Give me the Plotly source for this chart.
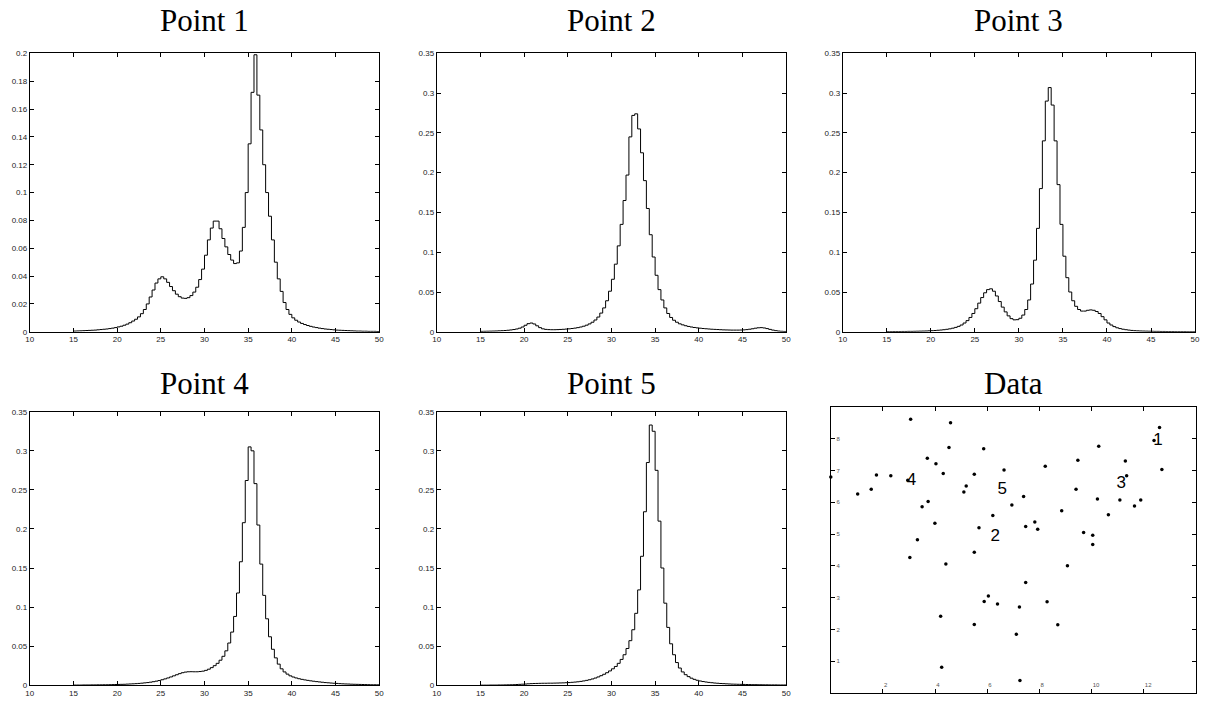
import plotly.graph_objects as go

W, H = 1208, 707

# ---------------- data ----------------
x_start = 15.0          # first bin left edge
bin_w = 1.0 / 3.0       # bin width of the stair plots
x_end = 50.0

dens1 = [0.0005, 0.0006, 0.0007, 0.0008, 0.0009, 0.0010, 0.0011, 0.0012, 0.0014, 0.0016,
         0.0018, 0.0020, 0.0023, 0.0026, 0.0030, 0.0035, 0.0040, 0.0047, 0.0055, 0.0065,
         0.0077, 0.0090, 0.0107, 0.0130, 0.0160, 0.0200, 0.0250, 0.0300, 0.0350, 0.0380,
         0.0395, 0.0380, 0.0355, 0.0325, 0.0295, 0.0270, 0.0252, 0.0242, 0.0240, 0.0245,
         0.0260, 0.0285, 0.0320, 0.0375, 0.0450, 0.0550, 0.0660, 0.0745, 0.0795, 0.0795,
         0.0740, 0.0670, 0.0610, 0.0555, 0.0515, 0.0490, 0.0495, 0.0580, 0.0750, 0.1000,
         0.1350, 0.1720, 0.1990, 0.1700, 0.1450, 0.1200, 0.1000, 0.0830, 0.0660, 0.0500,
         0.0380, 0.0290, 0.0210, 0.0160, 0.0125, 0.0100, 0.0083, 0.0070, 0.0060, 0.0052,
         0.0045, 0.0039, 0.0034, 0.0030, 0.0026, 0.0023, 0.0020, 0.0018, 0.0016, 0.0014,
         0.0012, 0.0011, 0.0010, 0.0009, 0.0008, 0.0007, 0.0006, 0.0005, 0.0005, 0.0004,
         0.0004, 0.0003, 0.0003, 0.0003, 0.0002]

dens2 = [0.0005, 0.0006, 0.0007, 0.0008, 0.0009, 0.0010, 0.0012, 0.0014, 0.0016, 0.0019,
         0.0023, 0.0028, 0.0035, 0.0045, 0.0060, 0.0082, 0.0102, 0.0110, 0.0098, 0.0075,
         0.0052, 0.0037, 0.0030, 0.0027, 0.0026, 0.0026, 0.0027, 0.0029, 0.0031, 0.0034,
         0.0037, 0.0041, 0.0046, 0.0052, 0.0060, 0.0070, 0.0083, 0.0099, 0.0120, 0.0148,
         0.0185, 0.0235, 0.0300, 0.0390, 0.0510, 0.0660, 0.0850, 0.1080, 0.1350, 0.1650,
         0.1970, 0.2450, 0.2720, 0.2740, 0.2550, 0.2250, 0.1900, 0.1550, 0.1220, 0.0940,
         0.0710, 0.0530, 0.0400, 0.0300, 0.0230, 0.0180, 0.0145, 0.0120, 0.0100, 0.0087,
         0.0076, 0.0067, 0.0060, 0.0054, 0.0049, 0.0045, 0.0041, 0.0038, 0.0035, 0.0032,
         0.0030, 0.0028, 0.0026, 0.0024, 0.0023, 0.0022, 0.0021, 0.0021, 0.0021, 0.0022,
         0.0024, 0.0027, 0.0032, 0.0038, 0.0045, 0.0050, 0.0052, 0.0048, 0.0040, 0.0030,
         0.0021, 0.0014, 0.0009, 0.0006, 0.0004]

dens3 = [0.0002, 0.0002, 0.0003, 0.0003, 0.0003, 0.0004, 0.0004, 0.0005, 0.0005, 0.0006,
         0.0007, 0.0008, 0.0009, 0.0010, 0.0012, 0.0014, 0.0016, 0.0019, 0.0022, 0.0026,
         0.0031, 0.0037, 0.0045, 0.0055, 0.0068, 0.0085, 0.0110, 0.0140, 0.0180, 0.0230,
         0.0290, 0.0360, 0.0430, 0.0490, 0.0530, 0.0540, 0.0510, 0.0450, 0.0380, 0.0310,
         0.0250, 0.0200, 0.0165, 0.0150, 0.0152, 0.0170, 0.0210, 0.0280, 0.0400, 0.0600,
         0.0900, 0.1300, 0.1800, 0.2400, 0.2900, 0.3070, 0.2850, 0.2400, 0.1850, 0.1350,
         0.0950, 0.0680, 0.0500, 0.0390, 0.0320, 0.0280, 0.0260, 0.0260, 0.0270, 0.0275,
         0.0270, 0.0255, 0.0230, 0.0190, 0.0150, 0.0110, 0.0085, 0.0065, 0.0050, 0.0040,
         0.0032, 0.0026, 0.0021, 0.0017, 0.0014, 0.0012, 0.0010, 0.0009, 0.0008, 0.0007,
         0.0006, 0.0005, 0.0005, 0.0004, 0.0004, 0.0003, 0.0003, 0.0003, 0.0002, 0.0002,
         0.0002, 0.0002, 0.0001, 0.0001, 0.0001]

dens4 = [0.0002, 0.0002, 0.0002, 0.0003, 0.0003, 0.0003, 0.0004, 0.0004, 0.0005, 0.0005,
         0.0006, 0.0006, 0.0007, 0.0008, 0.0009, 0.0010, 0.0011, 0.0012, 0.0014, 0.0016,
         0.0018, 0.0020, 0.0023, 0.0026, 0.0030, 0.0034, 0.0039, 0.0045, 0.0052, 0.0060,
         0.0070, 0.0081, 0.0093, 0.0106, 0.0120, 0.0134, 0.0148, 0.0160, 0.0168, 0.0172,
         0.0173, 0.0172, 0.0172, 0.0175, 0.0180, 0.0190, 0.0205, 0.0225, 0.0250, 0.0280,
         0.0320, 0.0370, 0.0440, 0.0540, 0.0680, 0.0880, 0.1180, 0.1580, 0.2080, 0.2620,
         0.3050, 0.3000, 0.2580, 0.2050, 0.1550, 0.1150, 0.0850, 0.0620, 0.0460, 0.0350,
         0.0270, 0.0210, 0.0170, 0.0142, 0.0120, 0.0105, 0.0093, 0.0083, 0.0075, 0.0068,
         0.0062, 0.0056, 0.0051, 0.0046, 0.0042, 0.0038, 0.0034, 0.0031, 0.0028, 0.0025,
         0.0023, 0.0020, 0.0018, 0.0016, 0.0015, 0.0013, 0.0012, 0.0011, 0.0010, 0.0009,
         0.0008, 0.0007, 0.0006, 0.0006, 0.0005]

dens5 = [0.0001, 0.0001, 0.0001, 0.0002, 0.0002, 0.0002, 0.0003, 0.0003, 0.0004, 0.0005,
         0.0006, 0.0007, 0.0009, 0.0011, 0.0013, 0.0015, 0.0018, 0.0020, 0.0022, 0.0023,
         0.0024, 0.0025, 0.0025, 0.0026, 0.0026, 0.0027, 0.0028, 0.0029, 0.0030, 0.0032,
         0.0034, 0.0037, 0.0040, 0.0044, 0.0049, 0.0055, 0.0062, 0.0070, 0.0080, 0.0092,
         0.0106, 0.0122, 0.0140, 0.0160, 0.0183, 0.0210, 0.0240, 0.0280, 0.0330, 0.0390,
         0.0470, 0.0570, 0.0710, 0.0920, 0.1220, 0.1650, 0.2220, 0.2850, 0.3330, 0.3250,
         0.2750, 0.2100, 0.1500, 0.1050, 0.0740, 0.0530, 0.0390, 0.0290, 0.0220, 0.0170,
         0.0135, 0.0110, 0.0090, 0.0075, 0.0063, 0.0054, 0.0047, 0.0041, 0.0036, 0.0032,
         0.0028, 0.0025, 0.0022, 0.0020, 0.0018, 0.0016, 0.0014, 0.0013, 0.0012, 0.0011,
         0.0010, 0.0009, 0.0008, 0.0007, 0.0007, 0.0006, 0.0006, 0.0005, 0.0005, 0.0004,
         0.0004, 0.0004, 0.0003, 0.0003, 0.0003]

titles = ["Point 1", "Point 2", "Point 3", "Point 4", "Point 5", "Data"]

x_ticks = [10, 15, 20, 25, 30, 35, 40, 45, 50]
y_ticks_1 = [0, 0.02, 0.04, 0.06, 0.08, 0.1, 0.12, 0.14, 0.16, 0.18, 0.2]
y_ticks_2 = [0, 0.05, 0.1, 0.15, 0.2, 0.25, 0.3, 0.35]

# scattered data (Data panel)
pts_x = [3.06, 4.59, 12.60, 12.39, 10.27, 4.53, 5.86, 3.70, 9.47, 11.29,
         4.03, 8.22, 6.64, 12.69, 4.31, 5.50, 1.75, 2.30, 11.34, 0.00,
         2.95, 1.55, 5.19, 5.10, 1.03, 9.40, 7.39, 10.22, 11.08, 11.88,
         3.73, 3.50, 6.94, 11.64, 8.85, 6.21, 10.64, 7.82, 3.99, 7.47,
         5.68, 7.93, 9.69, 10.04, 3.32, 10.04, 5.50, 3.03, 4.41, 9.07,
         7.47, 6.04, 5.88, 6.39, 8.29, 7.23, 4.21, 5.50, 8.70, 7.11,
         4.25, 7.25]
pts_y = [8.61, 8.50, 8.35, 7.94, 7.76, 7.72, 7.68, 7.38, 7.32, 7.30,
         7.21, 7.13, 7.01, 7.03, 6.90, 6.88, 6.86, 6.83, 6.83, 6.79,
         6.69, 6.41, 6.51, 6.32, 6.26, 6.41, 6.18, 6.10, 6.07, 6.07,
         6.02, 5.86, 5.91, 5.88, 5.73, 5.58, 5.61, 5.38, 5.34, 5.24,
         5.20, 5.15, 5.05, 4.96, 4.82, 4.67, 4.43, 4.26, 4.06, 4.00,
         3.48, 3.05, 2.88, 2.80, 2.87, 2.71, 2.42, 2.16, 2.15, 1.85,
         0.81, 0.40]
lbl_text = ["1", "2", "3", "4", "5"]
lbl_x = [12.54, 6.30, 11.13, 3.09, 6.57]
lbl_y = [7.93, 4.91, 6.58, 6.69, 6.39]

data_x_ticks = [0, 2, 4, 6, 8, 10, 12, 14]
data_y_ticks = [0, 1, 2, 3, 4, 5, 6, 7, 8, 9]

# ---------------- layout (pixel boxes) ----------------
boxes = [  # (left, right, top, bottom) in px
    (26, 378, 50, 332),
    (436, 788, 50, 332),
    (845, 1200, 50, 332),
    (26, 378, 413, 690),
    (436, 788, 413, 690),
    (833, 1201, 408, 698),
]


def xdom(b):
    return [b[0] / W, b[1] / W]


def ydom(b):
    return [1 - b[3] / H, 1 - b[2] / H]


fig = go.Figure()

tick_font = dict(family="Liberation Sans, Arial, sans-serif", size=8, color="#222")
axis_common = dict(showline=True, linecolor="black", linewidth=1, mirror="ticks",
                   ticks="inside", ticklen=4, tickcolor="black", tickwidth=1,
                   showgrid=False, zeroline=False, fixedrange=True)

all_dens = [dens1, dens2, dens3, dens4, dens5]
for k, dens in enumerate(all_dens):
    xs = [x_start + i * bin_w for i in range(len(dens))] + [x_end]
    ys = list(dens) + [dens[-1]]
    sfx = "" if k == 0 else str(k + 1)
    fig.add_trace(go.Scatter(x=xs, y=ys, mode="lines",
                             line=dict(color="black", width=1, shape="hv"),
                             xaxis="x" + sfx, yaxis="y" + sfx,
                             showlegend=False, hoverinfo="skip"))
    b = boxes[k]
    yt = y_ticks_1 if k == 0 else y_ticks_2
    fig.layout["xaxis" + sfx] = dict(domain=xdom(b), anchor="y" + sfx,
                                     range=[10, 50], tickvals=x_ticks,
                                     ticktext=[str(v) for v in x_ticks],
                                     tickfont=tick_font, **axis_common)
    fig.layout["yaxis" + sfx] = dict(domain=ydom(b), anchor="x" + sfx,
                                     range=[0, yt[-1]], tickvals=yt,
                                     ticktext=[("%g" % v) for v in yt],
                                     tickfont=tick_font, **axis_common)

# Data panel
fig.add_trace(go.Scatter(x=pts_x, y=pts_y, mode="markers",
                         marker=dict(color="black", size=3.5),
                         xaxis="x6", yaxis="y6", cliponaxis=False,
                         showlegend=False, hoverinfo="skip"))
fig.add_trace(go.Scatter(x=lbl_x, y=lbl_y, mode="text", text=lbl_text,
                         textfont=dict(family="Liberation Sans, Arial, sans-serif",
                                       size=17, color="black"),
                         xaxis="x6", yaxis="y6", showlegend=False, hoverinfo="skip"))
b = boxes[5]
small_font = dict(family="Liberation Sans, Arial, sans-serif", size=6, color="#555")
fig.layout["xaxis6"] = dict(domain=xdom(b), anchor="y6", range=[0, 14],
                            tickvals=data_x_ticks, ticktext=[str(v) for v in data_x_ticks],
                            tickfont=small_font, ticklabelposition="inside right",
                            **axis_common)
fig.layout["yaxis6"] = dict(domain=ydom(b), anchor="x6", range=[0, 9],
                            tickvals=data_y_ticks, ticktext=[str(v) for v in data_y_ticks],
                            tickfont=small_font, ticklabelposition="inside",
                            **axis_common)

# titles
title_font = dict(family="Liberation Serif, Times New Roman, serif", size=31, color="black")
title_y_px = [17, 17, 17, 384, 384, 384]
for k, t in enumerate(titles):
    b = boxes[k]
    fig.add_annotation(text=t, x=(b[0] + b[1]) / 2 / W, y=1 - title_y_px[k] / H,
                       xref="paper", yref="paper", xanchor="center", yanchor="middle",
                       showarrow=False, font=title_font)

fig.update_layout(width=W, height=H, margin=dict(l=0, r=0, t=0, b=0),
                  paper_bgcolor="white", plot_bgcolor="white")

fig.write_html("out.html",
               config={"displayModeBar": False, "staticPlot": True},
               post_script="document.body.style.margin='0';"
                           "document.body.style.padding='0';"
                           "document.body.style.overflow='hidden';")
